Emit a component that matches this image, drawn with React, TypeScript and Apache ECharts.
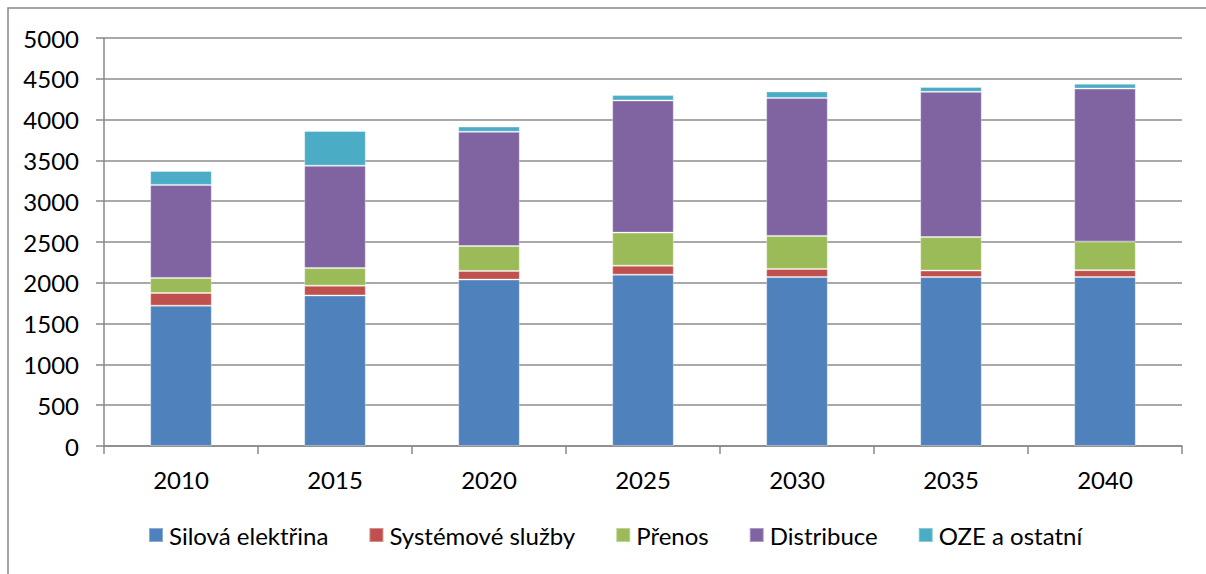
import React, { useEffect, useRef } from "react";
import * as echarts from "echarts";

const years = ["2010", "2015", "2020", "2025", "2030", "2035", "2040"];
const silova = [1720, 1845, 2040, 2100, 2070, 2070, 2070];
const systemove = [155, 120, 105, 110, 100, 80, 85];
const prenos = [185, 215, 305, 405, 405, 410, 350];
const distribuce = [1140, 1255, 1400, 1620, 1690, 1780, 1875];
const oze = [170, 425, 65, 65, 80, 60, 60];

const seriesNames = ["Silová elektřina", "Systémové služby", "Přenos", "Distribuce", "OZE a ostatní"];
const seriesData = [silova, systemove, prenos, distribuce, oze];
const colors = ["#4F81BD", "#C0504D", "#9BBB59", "#8064A2", "#4BACC6"];

const FONT = "Lato, 'Noto Sans', sans-serif";
const FS = 24;

export default function App() {
  const ref = useRef<HTMLDivElement>(null);
  useEffect(() => {
    if (!ref.current) return;
    const chart = echarts.init(ref.current, null, { renderer: "svg" });
    chart.setOption({
      animation: false,
      textStyle: { fontFamily: FONT },
      grid: { left: 104, right: 24, top: 38, bottom: 128, containLabel: false },
      graphic: [
        {
          type: "rect",
          shape: { x: 8, y: 8, width: 1210, height: 580 },
          style: { fill: "none", stroke: "#888888", lineWidth: 1.5 },
          silent: true,
        },
      ],
      legend: {
        left: 148,
        top: 523,
        padding: 0,
        itemWidth: 14,
        itemHeight: 14,
        itemGap: 40,
        icon: "rect",
        textStyle: { fontSize: FS, color: "#000", fontFamily: FONT, padding: [0, 0, 0, 1] },
        data: seriesNames,
      },
      xAxis: {
        type: "category",
        data: years,
        axisLine: { lineStyle: { color: "#888888", width: 1.5 } },
        axisTick: { show: true, length: 8, inside: false, lineStyle: { color: "#888888", width: 1.5 } },
        axisLabel: { color: "#000", fontSize: FS, margin: 21, fontFamily: FONT },
      },
      yAxis: {
        type: "value",
        min: 0,
        max: 5000,
        interval: 500,
        axisLine: { show: true, lineStyle: { color: "#888888", width: 1.5 } },
        axisTick: { show: true, length: 8, lineStyle: { color: "#888888", width: 1.5 } },
        axisLabel: {
          color: "#000",
          fontSize: FS,
          margin: 25,
          fontFamily: FONT,
          formatter: (v: number) => String(v),
        },
        splitLine: { show: true, lineStyle: { color: "#8c8c8c", width: 1.5 } },
      },
      series: seriesData.map((d, i) => ({
        name: seriesNames[i],
        type: "bar",
        stack: "total",
        data: d,
        barWidth: "40%",
        itemStyle: {
          color: colors[i],
          borderColor: "rgba(255,255,255,0.35)",
          borderWidth: 1,
        },
      })),
    });
    return () => chart.dispose();
  }, []);
  return (
    <div
      ref={ref}
      style={{ position: "absolute", left: 0, top: 0, width: 1206, height: 574, background: "#fff" }}
    />
  );
}
